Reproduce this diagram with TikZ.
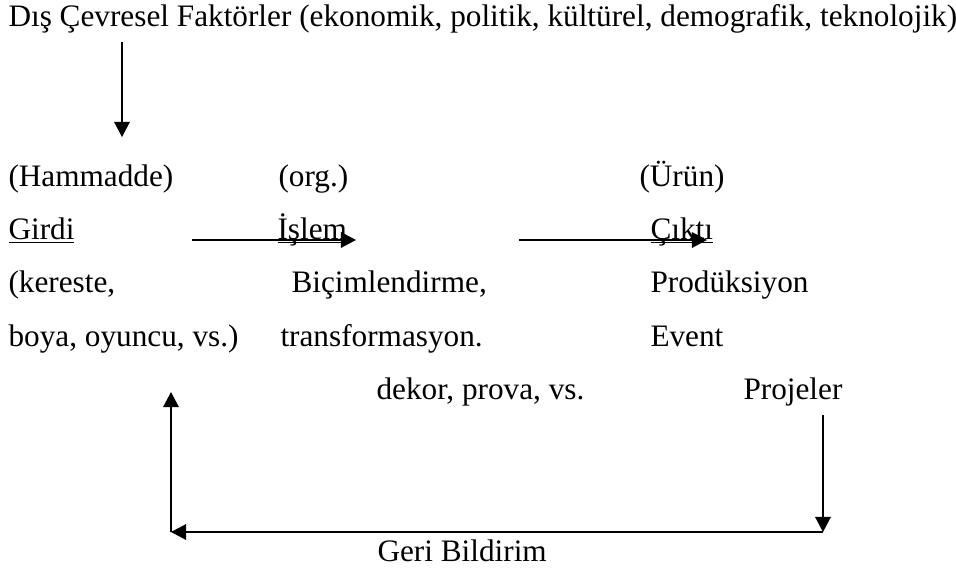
\documentclass[tikz,border=0pt]{standalone}
\usepackage{fontspec}
\setmainfont{Liberation Serif}
\usetikzlibrary{arrows.meta,positioning}
\newcommand{\ulword}[1]{\setbox0\hbox{#1}\rlap{\rule[-1.6pt]{\wd0}{0.5pt}}\box0}
\tikzset{
  txt/.style={anchor=base west,inner sep=0pt,font=\fontsize{12pt}{14pt}\selectfont},
  arr/.style={line width=0.5pt,-{Triangle[length=5.8pt,width=6pt]}}
}

\begin{document}
\begin{tikzpicture}[x=0.384pt,y=-0.384pt]
  \useasboundingbox (0,0) rectangle (956,571);

  % Environment line
  \node[txt] (title) at (8,26) {Dış Çevresel Faktörler (ekonomik, politik, kültürel, demografik, teknolojik)};

  % Three columns
  \node[txt] (ham) at (8,186) {(Hammadde)};
  \node[txt] (org) at (278,186) {(org.)};
  \node[txt] (urun) at (639,186) {(Ürün)};

  \node[txt] (girdi) at (8,239) {\ulword{Girdi}};
  \node[txt] (islem) at (277,239) {\ulword{İşlem}};
  \node[txt] (cikti) at (650,239) {\ulword{Çıktı}};

  \node[txt] (kereste) at (8,292.5) {(kereste,};
  \node[txt] (bicim) at (291,292.5) {Biçimlendirme,};
  \node[txt] (produk) at (650,292.5) {Prodüksiyon};

  \node[txt] (boya) at (8,346) {boya, oyuncu, vs.)};
  \node[txt] (trans) at (280,346) {transformasyon.};
  \node[txt] (event) at (650,346) {Event};

  \node[txt] (dekor) at (376,399) {dekor, prova, vs.};
  \node[txt] (projeler) at (743,399) {Projeler};

  \node[txt] (geri) at (377,561) {Geri Bildirim};

  % Arrow ends
  \coordinate (envtop) at (122,42);
  \coordinate (envbot) at (122,137);
  \coordinate (in1) at (192,240);
  \coordinate (in2) at (356,240);
  \coordinate (out1) at (519,240);
  \coordinate (out2) at (707,240);
  \coordinate (fbtop) at (823,415);
  \coordinate (fbright) at (823,532);
  \coordinate (fbleft) at (171,532);
  \coordinate (fbend) at (171,392);

  % Arrows
  \draw[arr] (envtop) -- (envbot);
  \draw[arr] (in1) -- (in2);
  \draw[arr] (out1) -- (out2);

  % Feedback loop
  \draw[arr] (fbtop) -- (fbright);
  \draw[arr] (fbright) -- (fbleft);
  \draw[arr] (fbleft) -- (fbend);
\end{tikzpicture}
\end{document}
